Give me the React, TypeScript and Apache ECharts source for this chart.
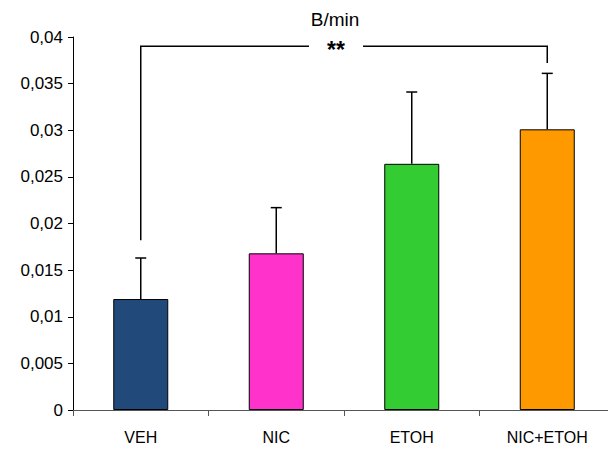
import React, { useEffect, useRef } from "react";
import * as echarts from "echarts";

const categories = ["VEH", "NIC", "ETOH", "NIC+ETOH"];
const means = [0.0119, 0.0168, 0.0264, 0.0301];
const errors = [0.0044, 0.0049, 0.0077, 0.006];
const barColors = ["#214A7B", "#FF33CC", "#33CC33", "#FF9900"];
// significance bracket: [fromIndex, toIndex, topValue, leftBottomValue, rightBottomValue, label]
const brackets: [number, number, number, number, number, string][] = [
  [0, 3, 0.039, 0.0182, 0.0372, "**"],
];
const yTicks = [0, 0.005, 0.01, 0.015, 0.02, 0.025, 0.03, 0.035, 0.04];

const FONT = "'Liberation Sans', Arial, sans-serif";

export default function App() {
  const ref = useRef<HTMLDivElement>(null);
  useEffect(() => {
    if (!ref.current) return;
    const chart = echarts.init(ref.current, null, { renderer: "svg" });
    chart.setOption({
      animation: false,
      backgroundColor: "#ffffff",
      title: {
        text: "B/min",
        left: 330,
        top: 5,
        textAlign: "center",
        textStyle: { fontFamily: FONT, fontSize: 19, fontWeight: "normal", color: "#000" },
      },
      grid: { left: 73, width: 542, top: 37, bottom: 40, containLabel: false, outerBoundsMode: "none" },
      xAxis: {
        type: "category",
        data: categories,
        boundaryGap: true,
        axisLine: { lineStyle: { color: "#555", width: 1 } },
        axisTick: { show: true, length: 6, lineStyle: { color: "#555" } },
        axisLabel: { fontFamily: FONT, fontSize: 16, color: "#000", margin: 19 },
      },
      yAxis: {
        type: "value",
        min: yTicks[0],
        max: yTicks[yTicks.length - 1],
        interval: 0.005,
        splitLine: { show: false },
        axisLine: { show: true, lineStyle: { color: "#000", width: 1 } },
        axisTick: { show: true, length: 5, lineStyle: { color: "#000" } },
        axisLabel: {
          fontFamily: FONT,
          fontSize: 17,
          color: "#000",
          margin: 10,
          formatter: (v: number) => String(parseFloat(v.toFixed(3))).replace(".", ","),
        },
      },
      series: [
        {
          type: "bar",
          barWidth: 55,
          data: means.map((m, i) => ({
            value: m,
            itemStyle: { color: barColors[i], borderColor: "#000", borderWidth: 1 },
          })),
          z: 2,
        },
        {
          type: "custom",
          z: 1,
          data: means.map((m, i) => [i, m, m + errors[i]]),
          renderItem: (params: any, api: any) => {
            const x = api.value(0);
            const lo = api.coord([x, api.value(1)]);
            const hi = api.coord([x, api.value(2)]);
            const cap = 5.5;
            return {
              type: "group",
              children: [
                { type: "line", shape: { x1: lo[0], y1: lo[1], x2: hi[0], y2: hi[1] }, style: { stroke: "#000", lineWidth: 1.5 } },
                { type: "line", shape: { x1: hi[0] - cap, y1: hi[1], x2: hi[0] + cap, y2: hi[1] }, style: { stroke: "#000", lineWidth: 1.5 } },
              ],
            };
          },
        },
        {
          type: "custom",
          z: 3,
          data: brackets.map((b) => [b[0], b[1], b[2], b[3], b[4]]),
          renderItem: (params: any, api: any) => {
            const b = brackets[params.dataIndex];
            const l = api.coord([api.value(0), api.value(2)]);
            const r = api.coord([api.value(1), api.value(2)]);
            const lb = api.coord([api.value(0), api.value(3)]);
            const rb = api.coord([api.value(1), api.value(4)]);
            const mid = (l[0] + r[0]) / 2 - 8;
            const gap = 27;
            const st = { stroke: "#000", lineWidth: 1.5, fill: "none" };
            return {
              type: "group",
              children: [
                { type: "polyline", shape: { points: [[lb[0], lb[1]], [l[0], l[1]], [mid - gap, l[1]]] }, style: st },
                { type: "polyline", shape: { points: [[mid + gap, r[1]], [r[0], r[1]], [rb[0], rb[1]]] }, style: st },
                {
                  type: "text",
                  x: mid,
                  y: l[1] + 4,
                  style: { text: b[5], fontFamily: FONT, fontSize: 23, fontWeight: "bold", fill: "#000", align: "center", verticalAlign: "middle" },
                },
              ],
            };
          },
        },
      ],
    });
    return () => chart.dispose();
  }, []);
  return <div ref={ref} style={{ position: "fixed", left: 0, top: 0, width: 608, height: 450 }} />;
}
